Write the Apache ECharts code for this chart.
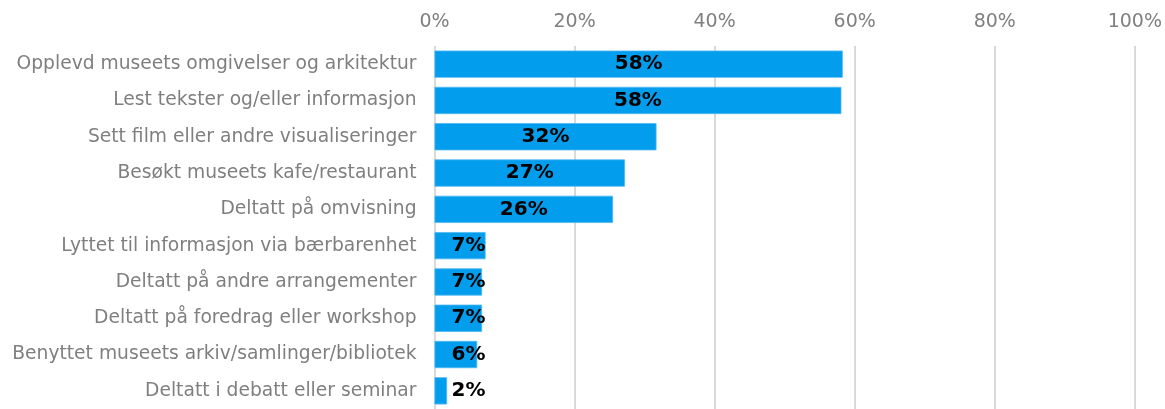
<!DOCTYPE html>
<html>
<head>
<meta charset="utf-8">
<style>
  html, body { margin: 0; padding: 0; background: #fff; }
  #chart { width: 1165px; height: 409px; }
</style>
<script src="https://cdn.jsdelivr.net/npm/echarts@6/dist/echarts.min.js"></script>
</head>
<body>
<div id="chart"></div>
<script>
// Activities reported by museum visitors (share of respondents, %)
const categories = [
  'Opplevd museets omgivelser og arkitektur',
  'Lest tekster og/eller informasjon',
  'Sett film eller andre visualiseringer',
  'Besøkt museets kafe/restaurant',
  'Deltatt på omvisning',
  'Lyttet til informasjon via bærbarenhet',
  'Deltatt på andre arrangementer',
  'Deltatt på foredrag eller workshop',
  'Benyttet museets arkiv/samlinger/bibliotek',
  'Deltatt i debatt eller seminar'
];
const shares = [58.3, 58.1, 31.7, 27.2, 25.5, 7.3, 6.8, 6.8, 6.1, 1.8];
const tickValues = [0, 20, 40, 60, 80, 100];

const fontFamily = '"DejaVu Sans", sans-serif';

// Short bars get their label pushed right of the axis so it stays readable
const barData = shares.map(v => ({
  value: v,
  label: v < 10
    ? { position: [17, '50%'], align: 'left', verticalAlign: 'middle' }
    : { position: 'inside' }
}));

const chart = echarts.init(document.getElementById('chart'), null, { renderer: 'canvas' });
chart.setOption({
  animation: false,
  grid: { left: 434.5, right: 29, top: 46, bottom: -5, containLabel: false },
  xAxis: {
    type: 'value',
    position: 'top',
    min: 0,
    max: 100,
    interval: 20,
    axisLine: { show: false },
    axisTick: { show: false },
    axisLabel: {
      color: '#808080',
      fontFamily,
      fontSize: 19,
      margin: 14,
      formatter: v => tickValues.includes(v) ? v + '%' : ''
    },
    splitLine: { show: true, lineStyle: { color: '#d9d9d9', width: 2 } }
  },
  yAxis: {
    type: 'category',
    inverse: true,
    data: categories,
    axisLine: { show: false },
    axisTick: { show: false },
    axisLabel: {
      color: '#7f7f7f',
      fontFamily,
      fontSize: 18.7,
      margin: 18
    }
  },
  series: [{
    type: 'bar',
    data: barData,
    barCategoryGap: '25%',
    itemStyle: { color: '#039DEE', borderColor: '#4FB9F2', borderWidth: 0.8 },
    label: {
      show: true,
      color: '#000',
      fontFamily,
      fontSize: 20,
      fontWeight: 'bold',
      formatter: p => Math.round(p.value) + '%'
    }
  }]
});
</script>
</body>
</html>
